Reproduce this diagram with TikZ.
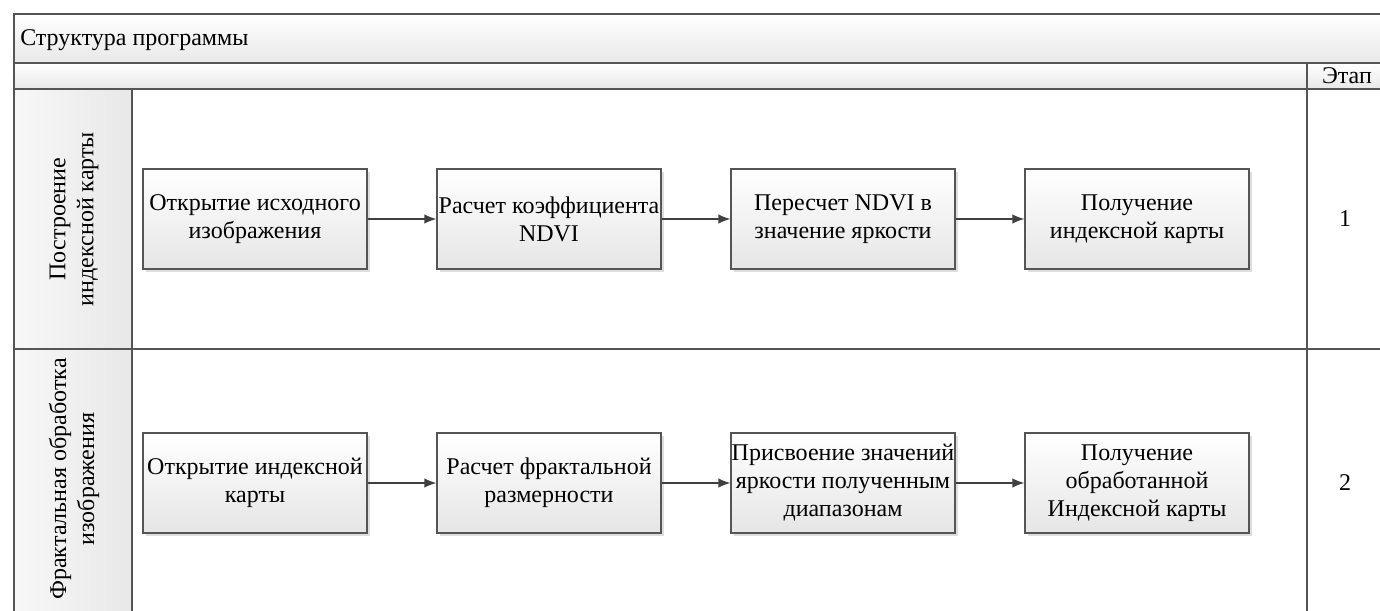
\documentclass[tikz,border=0pt]{standalone}
\usepackage{fontspec}
\setmainfont{Liberation Serif}
\usetikzlibrary{arrows.meta,shadows}
\definecolor{frameline}{HTML}{555555}
\definecolor{arrowcol}{HTML}{404040}
\tikzset{
  band/.style={draw=frameline, line width=1.1pt, top color=white, bottom color=black!9},
  lanecol/.style={draw=frameline, line width=1.1pt, left color=white!97!black, right color=black!9},
  plainlane/.style={draw=frameline, line width=1.1pt, fill=white},
  procbox/.style={draw=frameline, line width=0.9pt, top color=white, bottom color=black!10,
    minimum width=168pt, minimum height=75pt, inner sep=0pt, align=center,
    font=\fontsize{18pt}{21pt}\selectfont,
    drop shadow={shadow xshift=2pt, shadow yshift=-2pt, fill=black!25, opacity=0.5}},
  lanetext/.style={rotate=90, align=center, font=\fontsize{18pt}{21pt}\selectfont, inner sep=0pt},
  plaintext/.style={font=\fontsize{18pt}{21pt}\selectfont, inner sep=0pt},
  flow/.style={draw=arrowcol, line width=0.9pt, -{Latex[length=9pt,width=7pt]}}
}
\begin{document}
\begin{tikzpicture}[x=0.75pt,y=-0.75pt]
\useasboundingbox (0,0) rectangle (1380,610);
\clip (0,0) rectangle (1380,610);
\fill[white] (0,0) rectangle (1380,610);
% bands
\draw[band] (14,14) rectangle (1400,63);
\node[plaintext, anchor=west] (title) at (20,40) {Структура программы};
\draw[band] (14,63) rectangle (1400,89);
% lanes
\draw[plainlane] (14,89) rectangle (1400,349);
\draw[plainlane] (14,349) rectangle (1400,640);
\draw[lanecol] (14,89) rectangle (132,349);
\draw[lanecol] (14,349) rectangle (132,640);
\draw[draw=frameline, line width=1.1pt] (1307,63) -- (1307,640);
\node[plaintext] (stage) at (1347,76) {Этап};
% lane labels
\node[lanetext] (lab1) at (74,219) {Построение\\индексной карты};
\node[lanetext] (lab2) at (74,479) {Фрактальная обработка\\изображения};
% numbers
\node[plaintext] (n1) at (1345,219) {1};
\node[plaintext] (n2) at (1345,483) {2};
% lane 1 boxes
\node[procbox] (a1) at (255,219) {Открытие исходного\\изображения};
\node[procbox] (a2) at (549,219) {Расчет коэффициента\\NDVI};
\node[procbox] (a3) at (843,219) {Пересчет NDVI в\\значение яркости};
\node[procbox] (a4) at (1137,219) {Получение\\индексной карты};
% lane 2 boxes
\node[procbox] (b1) at (255,483) {Открытие индексной\\карты};
\node[procbox] (b2) at (549,483) {Расчет фрактальной\\размерности};
\node[procbox] (b3) at (843,483) {Присвоение значений\\яркости полученным\\диапазонам};
\node[procbox] (b4) at (1137,483) {Получение\\обработанной\\Индексной карты};
% arrows
\draw[flow] (a1) -- (a2);
\draw[flow] (a2) -- (a3);
\draw[flow] (a3) -- (a4);
\draw[flow] (b1) -- (b2);
\draw[flow] (b2) -- (b3);
\draw[flow] (b3) -- (b4);
\end{tikzpicture}
\end{document}
